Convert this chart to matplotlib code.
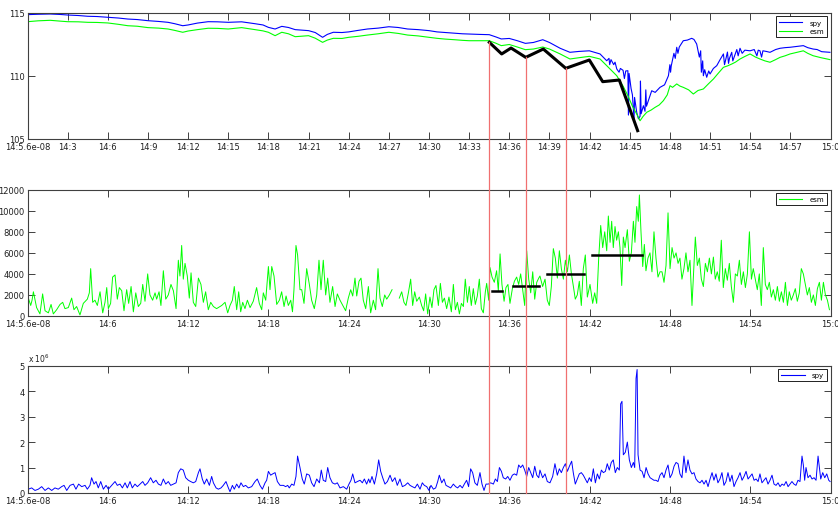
import numpy as np
import matplotlib
matplotlib.use("Agg")
import matplotlib.pyplot as plt
from matplotlib.lines import Line2D

# minutes after 14:00, value
spy_price = np.array([
    (0, 114.87), (0.8, 114.9), (1.7, 114.92), (2.5, 114.88), (3.0, 114.84), (3.8, 114.8),
    (4.5, 114.74), (5.2, 114.72), (6.0, 114.66), (6.8, 114.6), (7.5, 114.52), (8.2, 114.48),
    (9.0, 114.39), (9.8, 114.33), (10.5, 114.26), (11.0, 114.15), (11.6, 113.99), (12.0, 114.05),
    (12.7, 114.2), (13.5, 114.31), (14.2, 114.3), (15.0, 114.26), (16.0, 114.3), (17.0, 114.15),
    (17.6, 114.05), (18.0, 113.86), (18.5, 113.73), (19.0, 113.94), (19.5, 113.85), (20.0, 113.68),
    (21.0, 113.6), (21.5, 113.45), (22.05, 113.07), (22.4, 113.3), (22.85, 113.47), (23.5, 113.45),
    (24.0, 113.5), (24.7, 113.62), (25.4, 113.73), (26.2, 113.8), (27.0, 113.91), (27.7, 113.85),
    (28.4, 113.73), (29.2, 113.68), (30.0, 113.6), (30.6, 113.5), (31.2, 113.45), (31.9, 113.39),
    (32.5, 113.35), (33.0, 113.33), (33.8, 113.3), (34.5, 113.28), (35.0, 113.1), (35.4, 112.94),
    (36.0, 112.98), (36.6, 112.8), (37.2, 112.59), (37.8, 112.66), (38.5, 112.88), (39.0, 112.66),
    (39.8, 112.2), (40.53, 111.88), (41.2, 111.95), (41.98, 112.0), (42.78, 111.75), (43.28, 111.21),
    (43.45, 111.4), (43.5, 110.9), (43.6, 111.3), (43.8, 110.9), (43.9, 111.1), (44.03, 110.56),
    (44.2, 110.3), (44.3, 110.6), (44.5, 110.45), (44.6, 109.8), (44.7, 110.4), (44.86, 110.42),
    (44.9, 106.9), (44.95, 110.2), (45.1, 109.0), (45.2, 108.5), (45.32, 106.6), (45.36, 108.3),
    (45.52, 107.12), (45.65, 106.6), (45.77, 106.8), (45.8, 109.6), (45.85, 107.0), (46.02, 107.64),
    (46.14, 107.2), (46.2, 108.9), (46.25, 107.6), (46.64, 108.83), (46.9, 108.7), (47.26, 109.1),
    (47.6, 109.3), (47.89, 110.02), (48.0, 110.9), (48.05, 110.3), (48.1, 110.8), (48.3, 111.8),
    (48.4, 111.4), (48.51, 112.28), (48.6, 111.8), (48.7, 112.3), (49.0, 112.8), (49.3, 112.85),
    (49.63, 112.99), (49.8, 112.9), (50.0, 112.54), (50.2, 111.5), (50.3, 112.0), (50.35, 110.3),
    (50.45, 111.2), (50.5, 110.02), (50.6, 110.5), (50.75, 109.9), (50.9, 110.4), (51.0, 110.16),
    (51.25, 110.6), (51.5, 110.82), (51.75, 111.3), (52.0, 111.75), (52.08, 110.9), (52.15, 111.2),
    (52.3, 111.9), (52.38, 111.0), (52.45, 111.4), (52.62, 111.88), (52.7, 111.2), (52.8, 111.5),
    (53.0, 112.1), (53.1, 111.6), (53.24, 112.2), (53.4, 111.8), (53.6, 112.05), (53.99, 112.0),
    (54.3, 112.1), (54.5, 111.6), (54.6, 112.05), (54.73, 112.0), (54.85, 111.5), (54.95, 112.0),
    (55.2, 111.95), (55.48, 111.88), (55.9, 112.1), (56.23, 112.2), (56.6, 112.25), (56.98, 112.28),
    (57.5, 112.35), (57.97, 112.41), (58.3, 112.25), (58.7, 112.14), (59.0, 112.1), (59.34, 111.93),
    (59.96, 111.88),
])

esm_price = np.array([
    (0, 114.31), (0.8, 114.38), (1.7, 114.42), (2.5, 114.35), (3.0, 114.31), (3.8, 114.3),
    (4.5, 114.26), (5.2, 114.25), (6.0, 114.21), (6.8, 114.1), (7.5, 113.99), (8.2, 113.95),
    (9.0, 113.84), (9.8, 113.8), (10.5, 113.73), (11.0, 113.62), (11.6, 113.47), (12.0, 113.57),
    (12.7, 113.68), (13.5, 113.79), (14.2, 113.78), (15.0, 113.73), (16.0, 113.84), (17.0, 113.68),
    (17.6, 113.58), (18.0, 113.47), (18.5, 113.2), (19.0, 113.47), (19.5, 113.35), (20.0, 113.12),
    (21.0, 113.2), (21.5, 113.0), (22.05, 112.67), (22.4, 112.85), (22.85, 112.99), (23.5, 112.98),
    (24.0, 113.07), (24.7, 113.15), (25.4, 113.25), (26.2, 113.35), (27.0, 113.47), (27.7, 113.38),
    (28.4, 113.25), (29.2, 113.18), (30.0, 113.07), (30.6, 112.99), (31.2, 112.93), (31.9, 112.88),
    (32.5, 112.83), (33.0, 112.8), (33.8, 112.8), (34.5, 112.8), (35.0, 112.6), (35.4, 112.41),
    (36.0, 112.5), (36.6, 112.3), (37.2, 112.09), (37.8, 112.14), (38.5, 112.3), (39.0, 112.14),
    (39.8, 111.75), (40.53, 111.35), (41.2, 111.45), (41.98, 111.56), (42.78, 111.35), (43.28, 110.82),
    (44.03, 110.02), (44.5, 109.2), (44.86, 108.44), (45.2, 107.6), (45.52, 106.98), (45.77, 106.45),
    (46.0, 106.8), (46.27, 107.12), (46.6, 107.3), (46.89, 107.51), (47.2, 107.7), (47.51, 108.04),
    (47.8, 108.5), (48.01, 109.23), (48.2, 109.1), (48.51, 109.37), (48.75, 109.2), (49.0, 109.1),
    (49.4, 108.9), (49.75, 108.57), (50.1, 108.85), (50.5, 108.97), (50.9, 109.4), (51.25, 109.76),
    (51.6, 110.2), (52.0, 110.69), (52.3, 110.8), (52.62, 110.95), (52.9, 111.1), (53.24, 111.35),
    (53.6, 111.55), (53.99, 111.75), (54.4, 111.5), (54.73, 111.35), (55.1, 111.2), (55.48, 111.09),
    (55.9, 111.3), (56.23, 111.48), (56.6, 111.6), (56.98, 111.75), (57.5, 111.88), (57.97, 112.0),
    (58.3, 111.8), (58.7, 111.61), (59.3, 111.45), (59.96, 111.3),
])

# hand-drawn trend on the price panel
trend_price = np.array([
    (34.51, 112.67), (35.43, 111.75), (36.13, 112.22), (37.23, 111.48), (38.54, 112.14),
    (40.22, 110.61), (41.98, 111.27), (42.98, 109.55), (44.22, 109.68), (45.59, 105.66),
])

# average esm volume per leg: start, end, level
trend_volume = [
    (34.73, 35.48, 2381), (36.30, 38.24, 2829), (38.80, 41.59, 4000), (42.16, 45.89, 5810),
]

marker_times = [34.51, 37.23, 40.22]

esm_volume = np.array([
    (0.0, 600), (0.09, 1600), (0.24, 1000), (0.34, 1500), (0.44, 2300), (0.68, 800), (0.93, 200),
    (1.13, 2100), (1.31, 500), (1.56, 300), (1.76, 1100), (1.93, 200), (2.18, 600), (2.43, 1100),
    (2.63, 1300), (2.80, 700), (3.05, 800), (3.30, 1700), (3.47, 600), (3.67, 900), (3.92, 100),
    (4.17, 1200), (4.47, 1600), (4.62, 2200), (4.72, 4500), (4.87, 1300), (5.04, 1500), (5.22, 1000),
    (5.42, 2300), (5.62, 300), (5.79, 1300), (5.92, 2700), (6.04, 700), (6.21, 1200), (6.36, 3700),
    (6.54, 3900), (6.71, 1600), (6.86, 2700), (7.04, 2400), (7.21, 500), (7.41, 2500), (7.56, 1200),
    (7.74, 2800), (7.91, 400), (8.09, 2200), (8.28, 900), (8.46, 1200), (8.61, 3000), (8.78, 1400),
    (8.98, 4000), (9.15, 2000), (9.35, 1500), (9.53, 2200), (9.65, 1600), (9.83, 2300), (9.97, 1000),
    (10.15, 4300), (10.33, 1600), (10.52, 2000), (10.72, 3000), (10.90, 2400), (11.10, 700),
    (11.27, 5300), (11.39, 3800), (11.52, 6700), (11.64, 3500), (11.77, 5000), (11.94, 3800),
    (12.09, 1700), (12.22, 4100), (12.39, 1300), (12.57, 900), (12.77, 3600), (12.96, 3000),
    (13.14, 1300), (13.31, 2300), (13.51, 600), (13.69, 1300), (13.89, 900), (14.13, 700),
    (14.51, 1000), (14.76, 1300), (14.96, 300), (15.13, 1000), (15.31, 1500), (15.45, 2800),
    (15.63, 600), (15.78, 2300), (15.93, 400), (16.08, 1300), (16.25, 700), (16.43, 1500),
    (16.63, 800), (16.87, 1400), (17.12, 2700), (17.32, 1200), (17.50, 600), (17.62, 2200),
    (17.80, 1500), (18.0, 4700), (18.12, 2500), (18.25, 4700), (18.42, 3800), (18.62, 1100),
    (18.82, 1500), (18.99, 2300), (19.17, 900), (19.32, 1900), (19.49, 1000), (19.67, 1500),
    (19.80, 400), (19.91, 2500), (20.06, 6700), (20.18, 5800), (20.36, 2500), (20.49, 2500),
    (20.66, 1200), (20.86, 4500), (21.06, 3000), (21.23, 1500), (21.43, 700), (21.61, 2000),
    (21.78, 5300), (21.93, 2500), (22.10, 5300), (22.28, 2000), (22.43, 3600), (22.60, 1300),
    (22.80, 2800), (22.98, 900), (23.15, 2100), (23.35, 1500), (23.60, 900), (23.77, 500),
    (23.97, 1700), (24.15, 2500), (24.30, 1900), (24.47, 3600), (24.60, 1900), (24.77, 3300),
    (24.92, 3600), (25.09, 1500), (25.27, 700), (25.47, 2800), (25.64, 300), (25.84, 1500),
    (26.01, 600), (26.19, 4500), (26.34, 1700), (26.51, 900), (26.69, 2000), (26.84, 1600),
    (27.04, 2000), (27.24, 2500), (27.5, np.nan), (27.78, 1700), (27.96, 2300), (28.13, 1300),
    (28.28, 1000), (28.46, 2200), (28.63, 3500), (28.78, 1000), (28.93, 2300), (29.08, 1400),
    (29.28, 1800), (29.45, 1000), (29.60, 500), (29.75, 2100), (29.90, 200), (30.07, 1800),
    (30.22, 800), (30.37, 2500), (30.52, 2900), (30.70, 1000), (30.85, 3100), (31.0, 1300),
    (31.15, 1700), (31.32, 700), (31.49, 1800), (31.67, 400), (31.82, 3000), (31.97, 600),
    (32.12, 1300), (32.27, 200), (32.42, 1200), (32.57, 900), (32.71, 3500), (32.87, 1300),
    (33.01, 2800), (33.16, 1000), (33.31, 2600), (33.46, 1100), (33.61, 1900), (33.76, 3500),
    (33.91, 700), (34.06, 300), (34.21, 2300), (34.31, 3100), (34.46, 1500), (34.56, 4600),
    (34.71, 3700), (34.88, 3200), (35.05, 4300), (35.18, 2400), (35.31, 5900), (35.45, 3000),
    (35.61, 1400), (35.75, 2700), (35.90, 3000), (36.05, 1200), (36.23, 2600), (36.38, 3300),
    (36.55, 3700), (36.70, 3000), (36.85, 4000), (37.0, 2500), (37.15, 1000), (37.30, 6200),
    (37.45, 3500), (37.60, 2200), (37.75, 4200), (37.90, 1600), (38.05, 3200), (38.20, 3600),
    (38.29, 3800), (38.49, 2800), (38.67, 3500), (38.84, 1500), (38.99, 1000), (39.14, 2800),
    (39.29, 6400), (39.44, 5500), (39.59, 3600), (39.74, 6200), (39.89, 4500), (40.04, 3500),
    (40.19, 5300), (40.34, 4200), (40.49, 5800), (40.64, 4000), (40.79, 2800), (40.93, 1600),
    (41.08, 2000), (41.23, 3300), (41.38, 1000), (41.53, 4500), (41.68, 5800), (41.83, 1800),
    (42.03, 3000), (42.23, 1200), (42.38, 2200), (42.53, 1200), (42.68, 5500), (42.83, 8600),
    (42.98, 6500), (43.13, 8000), (43.28, 6200), (43.40, 9500), (43.53, 7000), (43.65, 9000),
    (43.77, 6500), (43.90, 8500), (44.02, 7200), (44.15, 8000), (44.27, 6500), (44.40, 2900),
    (44.52, 7500), (44.65, 6500), (44.82, 8200), (44.97, 5200), (45.12, 6000), (45.27, 9000),
    (45.39, 7000), (45.52, 10400), (45.64, 9000), (45.72, 11500), (45.84, 8000), (45.97, 4700),
    (46.09, 6800), (46.21, 4300), (46.36, 5500), (46.51, 6000), (46.66, 4200), (46.81, 8000),
    (46.96, 5500), (47.11, 3700), (47.26, 4200), (47.41, 4200), (47.56, 3200), (47.71, 4800),
    (47.86, 9800), (48.01, 4500), (48.16, 6500), (48.31, 5500), (48.46, 6000), (48.61, 5000),
    (48.75, 5500), (48.90, 3500), (49.05, 4500), (49.20, 6000), (49.35, 4200), (49.50, 5300),
    (49.65, 1000), (49.80, 5000), (49.90, 7500), (50.05, 4800), (50.20, 5500), (50.35, 3500),
    (50.50, 2800), (50.65, 5000), (50.80, 4200), (50.95, 5500), (51.10, 4000), (51.25, 5600),
    (51.39, 3500), (51.54, 4200), (51.69, 3300), (51.84, 7200), (51.99, 2700), (52.14, 4500),
    (52.29, 3400), (52.44, 5000), (52.59, 2800), (52.74, 1300), (52.89, 4000), (53.04, 3800),
    (53.19, 5300), (53.34, 3000), (53.49, 4200), (53.64, 2700), (53.79, 4000), (53.94, 8000),
    (54.09, 3500), (54.23, 4500), (54.38, 3500), (54.53, 2500), (54.68, 4000), (54.83, 1000),
    (54.98, 6500), (55.13, 3000), (55.28, 2500), (55.43, 3200), (55.58, 1800), (55.73, 2500),
    (55.88, 1500), (56.03, 2800), (56.18, 1400), (56.33, 2300), (56.48, 1300), (56.63, 3200),
    (56.78, 1000), (56.92, 2300), (57.07, 1500), (57.22, 2000), (57.37, 2600), (57.52, 1400),
    (57.67, 2200), (57.82, 4500), (57.97, 4000), (58.12, 3000), (58.27, 2000), (58.42, 2700),
    (58.57, 1300), (58.72, 2000), (58.87, 1000), (59.02, 2600), (59.17, 3200), (59.32, 1500),
    (59.47, 3200), (59.62, 2000), (59.77, 1500), (59.92, 600),
])

# spy volume in millions of shares
spy_volume = np.array([
    (0.06, 0.15), (0.31, 0.2), (0.56, 0.1), (0.81, 0.15), (1.06, 0.25), (1.31, 0.1), (1.56, 0.2),
    (1.81, 0.1), (2.05, 0.2), (2.30, 0.15), (2.55, 0.25), (2.73, 0.3), (2.93, 0.1), (3.18, 0.3),
    (3.43, 0.35), (3.62, 0.15), (3.82, 0.35), (4.05, 0.25), (4.30, 0.3), (4.47, 0.15), (4.67, 0.3),
    (4.79, 0.6), (4.97, 0.35), (5.12, 0.45), (5.29, 0.2), (5.47, 0.45), (5.67, 0.15), (5.87, 0.3),
    (6.04, 0.15), (6.29, 0.3), (6.54, 0.45), (6.71, 0.3), (6.91, 0.35), (7.09, 0.2), (7.29, 0.4),
    (7.46, 0.2), (7.66, 0.45), (7.83, 0.2), (8.03, 0.35), (8.21, 0.25), (8.41, 0.35), (8.61, 0.45),
    (8.78, 0.3), (8.98, 0.4), (9.20, 0.6), (9.40, 0.4), (9.60, 0.5), (9.78, 0.35), (9.97, 0.3),
    (10.15, 0.55), (10.33, 0.35), (10.52, 0.45), (10.70, 0.3), (10.90, 0.35), (11.10, 0.4),
    (11.27, 0.8), (11.45, 0.95), (11.64, 0.9), (11.82, 0.6), (12.02, 0.5), (12.19, 0.45),
    (12.39, 0.4), (12.57, 0.45), (12.77, 0.8), (12.89, 0.95), (13.06, 0.55), (13.21, 0.35),
    (13.39, 0.55), (13.59, 0.3), (13.76, 0.65), (13.89, 0.4), (14.09, 0.2), (14.26, 0.15),
    (14.46, 0.2), (14.63, 0.3), (14.83, 0.45), (15.01, 0.2), (15.13, 0.05), (15.31, 0.3),
    (15.45, 0.15), (15.63, 0.35), (15.80, 0.2), (15.95, 0.4), (16.13, 0.25), (16.30, 0.3),
    (16.50, 0.2), (16.75, 0.25), (17.0, 0.45), (17.17, 0.55), (17.37, 0.3), (17.55, 0.15),
    (17.75, 0.4), (17.87, 0.5), (18.0, 0.85), (18.17, 0.7), (18.32, 0.75), (18.50, 0.8),
    (18.67, 0.45), (18.87, 0.3), (19.12, 0.3), (19.29, 0.25), (19.44, 0.3), (19.56, 0.2),
    (19.74, 0.35), (19.91, 0.3), (20.06, 0.65), (20.18, 1.45), (20.36, 1.0), (20.53, 0.55),
    (20.68, 0.35), (20.86, 0.75), (21.06, 0.7), (21.23, 0.4), (21.41, 0.25), (21.61, 0.55),
    (21.81, 0.4), (21.95, 0.9), (22.10, 0.5), (22.28, 0.45), (22.43, 1.0), (22.60, 0.6),
    (22.78, 0.4), (22.98, 0.35), (23.15, 0.4), (23.35, 0.2), (23.60, 0.25), (23.85, 0.15),
    (24.02, 0.35), (24.17, 0.5), (24.30, 0.75), (24.47, 0.4), (24.65, 0.45), (24.85, 0.5),
    (25.02, 0.4), (25.17, 0.55), (25.34, 0.35), (25.49, 0.55), (25.59, 0.4), (25.74, 0.65),
    (25.92, 0.35), (26.09, 0.75), (26.24, 1.3), (26.39, 0.85), (26.54, 0.6), (26.71, 0.35),
    (26.89, 0.45), (27.09, 0.7), (27.26, 0.45), (27.46, 0.6), (27.63, 0.3), (27.83, 0.55),
    (28.01, 0.25), (28.21, 0.3), (28.41, 0.4), (28.58, 0.3), (28.75, 0.25), (28.95, 0.2),
    (29.13, 0.35), (29.33, 0.15), (29.50, 0.4), (29.65, 0.3), (29.83, 0.25), (30.0, 0.1),
    (30.15, 0.3), (30.33, 0.15), (30.50, 0.2), (30.65, 0.45), (30.77, 0.7), (30.95, 0.4),
    (31.12, 0.55), (31.27, 0.3), (31.44, 0.25), (31.62, 0.2), (31.82, 0.35), (31.99, 0.25),
    (32.14, 0.2), (32.32, 0.3), (32.49, 0.2), (32.64, 0.35), (32.81, 0.5), (32.96, 0.25),
    (33.11, 0.95), (33.26, 0.8), (33.43, 0.4), (33.61, 0.3), (33.81, 0.8), (33.96, 0.35),
    (34.11, 0.1), (34.26, 0.35), (34.43, 0.35), (34.61, 0.4), (34.81, 0.35), (34.96, 0.55),
    (35.11, 0.45), (35.26, 1.0), (35.41, 0.85), (35.55, 0.6), (35.73, 0.55), (35.88, 0.65),
    (36.05, 0.5), (36.23, 0.7), (36.38, 0.75), (36.55, 0.7), (36.70, 1.1), (36.85, 1.0),
    (37.0, 1.1), (37.15, 0.9), (37.30, 0.65), (37.45, 1.0), (37.60, 0.8), (37.75, 0.6),
    (37.90, 1.05), (38.05, 0.7), (38.20, 0.6), (38.29, 0.9), (38.49, 0.6), (38.67, 0.75),
    (38.84, 0.45), (39.04, 0.4), (39.24, 0.65), (39.41, 1.15), (39.59, 0.7), (39.74, 0.95),
    (39.89, 0.8), (40.04, 1.0), (40.19, 1.15), (40.34, 0.85), (40.49, 1.05), (40.66, 1.25),
    (40.78, 0.8), (40.93, 0.35), (41.08, 0.55), (41.23, 0.75), (41.38, 0.8), (41.53, 0.7),
    (41.68, 0.55), (41.83, 0.4), (41.98, 0.6), (42.13, 0.45), (42.28, 0.95), (42.43, 0.4),
    (42.58, 0.75), (42.73, 0.55), (42.88, 0.9), (43.03, 0.8), (43.18, 0.85), (43.32, 1.15),
    (43.47, 0.9), (43.62, 1.2), (43.77, 1.3), (43.92, 0.8), (44.07, 1.0), (44.22, 0.9),
    (44.32, 3.5), (44.42, 3.6), (44.52, 1.5), (44.67, 1.6), (44.82, 2.0), (44.97, 1.3),
    (45.12, 1.0), (45.27, 1.2), (45.37, 1.0), (45.47, 4.5), (45.55, 4.85), (45.62, 1.5),
    (45.77, 0.9), (45.92, 0.85), (46.07, 0.6), (46.22, 1.0), (46.37, 0.75), (46.52, 0.6),
    (46.66, 0.55), (46.81, 0.5), (46.96, 0.5), (47.11, 0.45), (47.26, 0.7), (47.41, 0.8),
    (47.56, 0.6), (47.71, 0.9), (47.86, 1.1), (48.01, 0.6), (48.16, 0.75), (48.31, 1.05),
    (48.46, 1.2), (48.61, 1.15), (48.75, 0.75), (48.90, 0.6), (49.05, 1.45), (49.20, 0.8),
    (49.35, 1.3), (49.50, 0.9), (49.65, 0.75), (49.80, 0.8), (49.95, 0.55), (50.10, 0.45),
    (50.25, 0.4), (50.40, 0.5), (50.55, 0.35), (50.70, 0.5), (50.85, 0.25), (51.00, 0.55),
    (51.15, 0.8), (51.29, 0.5), (51.44, 0.75), (51.59, 0.4), (51.74, 0.55), (51.89, 0.8),
    (52.04, 0.3), (52.19, 0.45), (52.34, 0.8), (52.49, 0.45), (52.64, 0.7), (52.79, 0.25),
    (52.94, 0.45), (53.09, 0.6), (53.24, 0.8), (53.39, 0.5), (53.54, 0.65), (53.69, 0.85),
    (53.84, 0.55), (53.99, 0.65), (54.14, 0.75), (54.29, 0.5), (54.44, 0.55), (54.59, 0.45),
    (54.73, 0.75), (54.88, 0.4), (55.03, 0.5), (55.18, 0.6), (55.33, 0.35), (55.48, 0.5),
    (55.63, 0.7), (55.78, 0.35), (55.93, 0.3), (56.08, 0.4), (56.23, 0.25), (56.38, 0.35),
    (56.53, 0.3), (56.68, 0.45), (56.83, 0.25), (56.98, 0.35), (57.12, 0.45), (57.27, 0.35),
    (57.42, 0.3), (57.57, 0.5), (57.72, 0.45), (57.87, 1.45), (57.97, 1.1), (58.07, 0.5),
    (58.17, 1.0), (58.32, 0.6), (58.47, 0.7), (58.62, 0.55), (58.77, 0.6), (58.92, 0.5),
    (59.07, 1.45), (59.17, 1.0), (59.27, 0.55), (59.42, 0.8), (59.57, 0.6), (59.72, 0.75),
    (59.87, 0.5), (59.97, 0.45),
])

fine_ticks = list(range(0, 61, 3))
coarse_ticks = list(range(0, 61, 6))


def clock_label(m):
    # matlab datetick leaves a rounding residue on the first tick
    if m == 0:
        return "14:5.6e-08"
    return "%d:%d" % (14 + m // 60, m % 60)


GRID = "#404040"
plt.rcParams["font.family"] = "DejaVu Sans"
plt.rcParams["font.size"] = 6

W, H = 838, 506
fig = plt.figure(figsize=(W / 100, H / 100), dpi=100)


def make_axes(top, bottom):
    ax = fig.add_axes([27.5 / W, 1 - bottom / H, 803 / W, (bottom - top) / H])
    ax.set_xlim(0, 60)
    ax.tick_params(direction="in", length=5, width=0.7, top=True, right=True,
                   colors=GRID, labelsize=6, labelcolor="#202020", pad=2)
    for s in ax.spines.values():
        s.set_color(GRID)
        s.set_linewidth(0.8)
    return ax


ax1 = make_axes(14, 140)
ax2 = make_axes(190.7, 317)
ax3 = make_axes(366.7, 494)

# prices
spy_line, = ax1.plot(spy_price[:, 0], spy_price[:, 1], color="#0000ff", lw=0.8, label="spy")
esm_line, = ax1.plot(esm_price[:, 0], esm_price[:, 1], color="#00ff00", lw=0.8, label="esm")
ax1.plot(trend_price[:, 0], trend_price[:, 1], color="black", lw=2.2)
ax1.set_ylim(105, 115)
ax1.set_yticks([105, 110, 115])
ax1.set_xticks(fine_ticks)
ax1.set_xticklabels([clock_label(m) for m in fine_ticks])

# esm volume
esm_vol_line, = ax2.plot(esm_volume[:, 0], esm_volume[:, 1], color="#00ff00", lw=0.7,
                         label="esm")
for t0, t1, lvl in trend_volume:
    ax2.plot([t0, t1], [lvl, lvl], color="black", lw=1.8)
ax2.set_ylim(0, 12000)
ax2.set_yticks(range(0, 12001, 2000))
ax2.set_xticks(coarse_ticks)
ax2.set_xticklabels([clock_label(m) for m in coarse_ticks])

# spy volume
spy_vol_line, = ax3.plot(spy_volume[:, 0], spy_volume[:, 1], color="#0000ff", lw=0.7,
                         label="spy")
ax3.set_ylim(0, 5)
ax3.set_yticks(range(0, 6))
ax3.set_xticks(coarse_ticks)
ax3.set_xticklabels([clock_label(m) for m in coarse_ticks])
ax3.text(0.0, 1.01, r"x 10$^6$", transform=ax3.transAxes, fontsize=5.5,
         color="#202020", va="bottom", ha="left")

for ax, handles in ((ax1, [spy_line, esm_line]), (ax2, [esm_vol_line]), (ax3, [spy_vol_line])):
    leg = ax.legend(handles=handles, loc="upper right", fontsize=5, handlelength=3.4,
                    fancybox=False, framealpha=1, borderpad=0.45, handletextpad=1.0,
                    labelspacing=0.35, borderaxespad=0.5)
    leg.get_frame().set_edgecolor("#202020")
    leg.get_frame().set_linewidth(0.7)
    for h in leg.get_lines():
        h.set_linewidth(0.8)

# vertical markers running from the trend vertices down through every panel
inv = fig.transFigure.inverted()
for t in marker_times:
    y_top = np.interp(t, trend_price[:, 0], trend_price[:, 1])
    x0, y0 = inv.transform(ax1.transData.transform((t, y_top)))
    x1, y1 = inv.transform(ax3.transData.transform((t, 0)))
    fig.add_artist(Line2D([x0, x1], [y0, y1], transform=fig.transFigure,
                          color="#f07070", lw=0.9, zorder=10))

fig.savefig("out.png", dpi=100, facecolor="white")
